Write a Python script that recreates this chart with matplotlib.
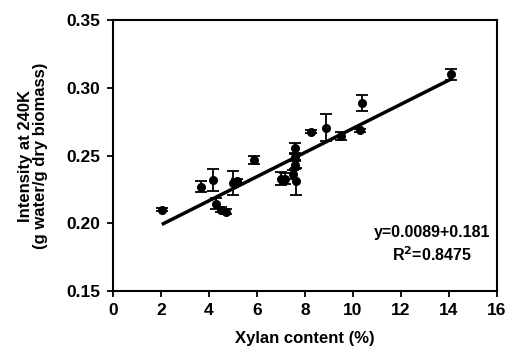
import matplotlib
matplotlib.use("Agg")
import matplotlib.pyplot as plt
import numpy as np

plt.rcParams['font.family'] = ['Liberation Sans', 'DejaVu Sans']

xylan = [2.05, 3.65, 4.18, 4.3, 4.5, 4.7, 5.0, 5.15, 5.88, 7.0, 7.17, 7.5, 7.62, 7.6, 7.6, 7.6,
         8.27, 8.9, 9.5, 10.3, 10.4, 14.1]
intensity = [0.210, 0.227, 0.232, 0.2145, 0.210, 0.2085, 0.2295, 0.231, 0.247, 0.233, 0.233, 0.236,
             0.231, 0.243, 0.249, 0.2555, 0.2675, 0.2705, 0.2645, 0.2685, 0.2885, 0.310]
err = [0.001, 0.004, 0.008, 0.004, 0.002, 0.002, 0.009, 0.002, 0.003, 0.005, 0.004, 0.003,
       0.010, 0.003, 0.002, 0.004, 0.001, 0.010, 0.003, 0.001, 0.006, 0.004]
slope, intercept = 0.0089, 0.181
fit_range = [2.1, 14.1]
xticks = [0, 2, 4, 6, 8, 10, 12, 14, 16]
yticks = [0.15, 0.20, 0.25, 0.30, 0.35]

fig = plt.figure(figsize=(5.08, 3.56), dpi=100)
ax = fig.add_axes([0.2224, 0.1826, 0.7556, 0.7612])

fx = np.array(fit_range)
ax.plot(fx, slope * fx + intercept, color='black', lw=2.5, zorder=2)
ax.errorbar(xylan, intensity, yerr=err, fmt='o', color='black', ms=5.5,
            ecolor='black', elinewidth=1.3, capsize=4, capthick=1.3, zorder=3)

ax.set_xlim(0, 16)
ax.set_ylim(0.15, 0.35)
ax.set_xticks(xticks)
ax.set_yticks(yticks)
ax.set_yticklabels([f"{v:.2f}" for v in yticks])
for s in ax.spines.values():
    s.set_linewidth(1.5)
ax.tick_params(direction='out', length=4, width=1.3, labelsize=12.5, pad=5)
for lab in ax.get_xticklabels() + ax.get_yticklabels():
    lab.set_fontweight('bold')

ax.set_xlabel('Xylan content (%)', fontsize=12, fontweight='bold', labelpad=9)
ax.set_ylabel('Intensity at 240K\n(g water/g dry biomass)', fontsize=12,
              fontweight='bold', labelpad=13, linespacing=1.05)

ax.text(13.3, 0.1935, 'y=0.0089+0.181', ha='center', va='center', fontsize=11.5, fontweight='bold')
ax.text(13.3, 0.1766, 'R$^{\\mathbf{2}}$=0.8475', ha='center', va='center', fontsize=11.5, fontweight='bold')

fig.savefig('out.png', dpi=100)
